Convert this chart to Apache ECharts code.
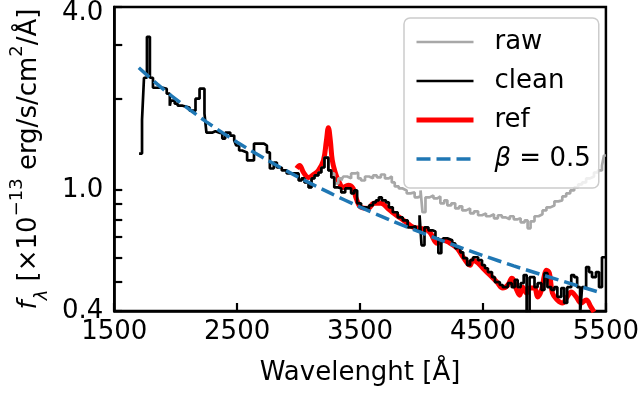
<!DOCTYPE html>
<html><head><meta charset="utf-8">
<script src="https://cdn.jsdelivr.net/npm/echarts@6/dist/echarts.min.js"></script>
<style>html,body{margin:0;padding:0;background:#fff}#c{width:642px;height:394px}</style>
</head><body><div id="c"></div>
<script>
const seriesNames = ['raw', 'clean', 'ref', 'β = 0.5'];
const xTicks = [1500, 2500, 3500, 4500, 5500];
const yTickLabels = [0.4, 1.0, 4.0];
const yMinorTicks = [0.5, 0.6, 0.7, 0.8, 0.9, 2, 3];

const cleanWave = [1702,1726,1742,1766,1790,1815,1895,1927,1952,1960,1992,2016,2056,2113,2161,2194,2234,2250,2300,2323,2355,2379,2403,2444,2476,2492,2516,2540,2581,2637,2718,2742,2766,2798,2823,2863,2903,3000,3024,3048,3081,3105,3129,3161,3185,3210,3242,3266,3290,3323,3347,3379,3427,3452,3476,3508,3548,3573,3605,3629,3653,3677,3710,3734,3766,3806,3847,3887,3927,3952,3984,4000,4024,4056,4089,4113,4137,4161,4177,4210,4250,4274,4290,4315,4339,4371,4395,4419,4460,4492,4516,4540,4573,4597,4637,4661,4702,4734,4758,4782,4806,4831,4855,4879,4919,4944,4976,5000,5024,5056,5081,5105,5137,5161,5185,5218,5242,5266,5290,5306,5339,5363,5387,5419,5444,5468,5500];
const cleanFlux = [1.318,1.704,2.341,3.190,2.341,2.170,2.154,2.074,1.894,1.967,1.923,1.894,1.866,1.824,1.997,2.154,1.783,1.545,1.560,1.545,1.534,1.477,1.545,1.511,1.455,1.401,1.349,1.329,1.251,1.422,1.401,1.329,1.177,1.232,1.186,1.160,1.134,1.075,1.092,1.059,1.020,1.092,1.117,1.142,1.186,1.279,1.160,1.100,1.020,1.012,0.982,1.012,0.975,0.997,0.904,0.877,0.870,0.890,0.911,0.925,0.946,0.925,0.911,0.877,0.845,0.813,0.795,0.754,0.760,0.737,0.826,0.658,0.754,0.737,0.730,0.694,0.620,0.668,0.694,0.684,0.668,0.643,0.648,0.624,0.597,0.566,0.588,0.601,0.588,0.566,0.553,0.537,0.517,0.498,0.487,0.479,0.494,0.479,0.506,0.479,0.494,0.525,0.390,0.517,0.479,0.494,0.469,0.533,0.479,0.469,0.479,0.445,0.476,0.425,0.479,0.525,0.517,0.479,0.390,0.479,0.558,0.537,0.517,0.537,0.479,0.601,0.601];

const rawWave = [3000,3024,3048,3081,3105,3129,3161,3185,3210,3242,3266,3290,3323,3347,3363,3395,3427,3460,3484,3508,3540,3573,3605,3637,3669,3702,3734,3758,3782,3815,3847,3879,3911,3944,3968,3992,4008,4032,4065,4097,4129,4153,4185,4210,4242,4274,4306,4331,4363,4395,4427,4460,4492,4524,4556,4589,4621,4653,4685,4718,4750,4782,4806,4839,4863,4887,4919,4952,4984,5016,5048,5081,5113,5145,5177,5210,5242,5274,5306,5339,5371,5403,5435,5468,5484,5500];
const rawFlux = [1.075,1.092,1.059,1.020,1.092,1.117,1.142,1.186,1.279,1.160,1.134,1.051,1.092,1.075,1.108,1.092,1.134,1.142,1.092,1.075,1.108,1.092,1.117,1.100,1.125,1.092,1.108,1.059,1.028,1.012,0.997,0.975,0.982,0.946,0.953,0.997,0.845,0.946,0.960,0.939,0.953,0.904,0.925,0.890,0.904,0.870,0.884,0.857,0.870,0.838,0.851,0.826,0.838,0.820,0.832,0.807,0.826,0.813,0.801,0.820,0.801,0.807,0.783,0.795,0.748,0.789,0.820,0.832,0.857,0.877,0.890,0.918,0.925,0.953,0.975,0.997,1.020,1.043,1.059,1.092,1.108,1.142,1.160,1.204,1.299,1.299];

const refWave = [2984,3008,3040,3081,3121,3161,3202,3226,3242,3258,3274,3298,3323,3363,3403,3444,3468,3508,3565,3613,3669,3726,3774,3831,3887,3935,3992,4048,4073,4129,4177,4234,4290,4339,4395,4419,4460,4500,4556,4613,4661,4702,4734,4774,4798,4823,4855,4879,4919,4944,4976,5000,5016,5040,5065,5105,5145,5185,5218,5258,5298,5339,5379,5403];
const refFlux = [1.177,1.204,1.142,1.100,1.125,1.160,1.251,1.455,1.604,1.455,1.251,1.142,1.075,1.020,1.036,1.012,0.939,0.877,0.870,0.904,0.904,0.870,0.838,0.807,0.777,0.754,0.748,0.737,0.721,0.668,0.684,0.668,0.643,0.601,0.566,0.588,0.575,0.553,0.525,0.498,0.476,0.487,0.513,0.469,0.451,0.479,0.458,0.476,0.476,0.445,0.469,0.525,0.545,0.533,0.458,0.435,0.425,0.445,0.462,0.445,0.425,0.435,0.412,0.397];

const betaWave = [1700,1850,2000,2250,2500,2750,3000,3250,3500,3750,4000,4250,4500,4750,5000,5250,5470];
const betaFlux = [2.524,2.231,1.991,1.676,1.437,1.251,1.101,0.980,0.879,0.795,0.724,0.662,0.609,0.563,0.523,0.487,0.458];

const zip = (w, f) => w.map((v, i) => [v, f[i]]);
const FONT = 'DejaVu Sans';
const FS = 26;
const styles = {
  raw: {color: '#a8a8a8', width: 2.7, type: 'solid'},
  clean: {color: '#000000', width: 2.7, type: 'solid'},
  ref: {color: '#ff0000', width: 5, type: 'solid'},
  beta: {color: '#1f77b4', width: 3.5, type: [14, 6]}
};
const styleList = [styles.raw, styles.clean, styles.ref, styles.beta];
const chart = echarts.init(document.getElementById('c'), null, {renderer: 'canvas'});
chart.setOption({
  animation: false,
  textStyle: {fontFamily: FONT},
  grid: {left: 111, right: 35, top: 6, bottom: 83, show: true, borderColor: '#000', borderWidth: 2.5, backgroundColor: 'transparent'},
  xAxis: {
    type: 'value', min: 1500, max: 5500,
    name: 'Wavelenght [Å]', nameLocation: 'middle', nameGap: 49,
    nameTextStyle: {fontSize: FS, color: '#000', fontFamily: FONT},
    axisLine: {show: true, onZero: false, lineStyle: {color: '#000', width: 2.5}},
    axisTick: {show: true, inside: true, length: 8, lineStyle: {color: '#000', width: 2.2}, customValues: xTicks},
    axisLabel: {fontSize: FS, color: '#000', margin: 8, fontFamily: FONT, customValues: xTicks, formatter: v => String(v)},
    splitLine: {show: false}
  },
  yAxis: {
    type: 'log', logBase: 10, min: 0.4, max: 4,
    name: '{it|f}{sub|λ} [×10{sup|−13} erg/s/cm{sup|2}/Å]',
    nameLocation: 'middle', nameGap: 57,
    nameTextStyle: {fontSize: FS, color: '#000', fontFamily: FONT, lineHeight: 43,
      rich: {
        it: {fontSize: FS, fontStyle: 'italic', fontFamily: FONT, color: '#000'},
        sub: {fontSize: 18, fontStyle: 'italic', fontFamily: FONT, color: '#000', verticalAlign: 'bottom', lineHeight: 26},
        sup: {fontSize: 18, fontFamily: FONT, color: '#000', verticalAlign: 'top', lineHeight: 18}
      }},
    axisLine: {show: true, lineStyle: {color: '#000', width: 2.5}},
    axisTick: {show: true, inside: true, length: 8, lineStyle: {color: '#000', width: 2.2}, customValues: yTickLabels.concat(yMinorTicks)},
    axisLabel: {fontSize: FS, color: '#000', margin: 11, fontFamily: FONT, customValues: yTickLabels,
      formatter: v => (Number(v) > 3.9 ? '{t|' + Number(v).toFixed(1) + '}' : Number(v).toFixed(1)),
      rich: {t: {fontSize: FS, color: '#000', fontFamily: FONT, padding: [12, 0, 0, 0]}}},
    splitLine: {show: false}
  },
  legend: {
    data: seriesNames.map((n, i) => ({name: n, lineStyle: {color: styleList[i].color, width: styleList[i].width, type: styleList[i].type}})),
    orient: 'vertical', left: 404, top: 18,
    backgroundColor: 'rgba(255,255,255,0.8)', borderColor: '#cccccc', borderWidth: 1.5, borderRadius: 6,
    padding: [11, 8, 16, 10], itemWidth: 57, itemHeight: 26, itemGap: 13,
    itemStyle: {opacity: 0},
    textStyle: {fontSize: FS, color: '#000', fontFamily: FONT, padding: [0, 0, 0, 16],
      rich: {it: {fontSize: FS, fontStyle: 'italic', fontFamily: FONT, color: '#000'}}},
    formatter: n => (n === seriesNames[3] ? '{it|β} = 0.5' : n)
  },
  series: [
    {name: seriesNames[2], type: 'line', data: zip(refWave, refFlux), smooth: 0.4, symbol: 'none',
      lineStyle: styles.ref, itemStyle: {color: styles.ref.color}, z: 2},
    {name: seriesNames[0], type: 'line', data: zip(rawWave, rawFlux), step: 'end', symbol: 'none',
      lineStyle: styles.raw, itemStyle: {color: styles.raw.color}, z: 3},
    {name: seriesNames[1], type: 'line', data: zip(cleanWave, cleanFlux), step: 'end', symbol: 'none',
      lineStyle: styles.clean, itemStyle: {color: styles.clean.color}, z: 4},
    {name: seriesNames[3], type: 'line', data: zip(betaWave, betaFlux), smooth: 0.3, symbol: 'none',
      lineStyle: styles.beta, itemStyle: {color: styles.beta.color}, z: 5}
  ]
});
</script>
</body></html>
